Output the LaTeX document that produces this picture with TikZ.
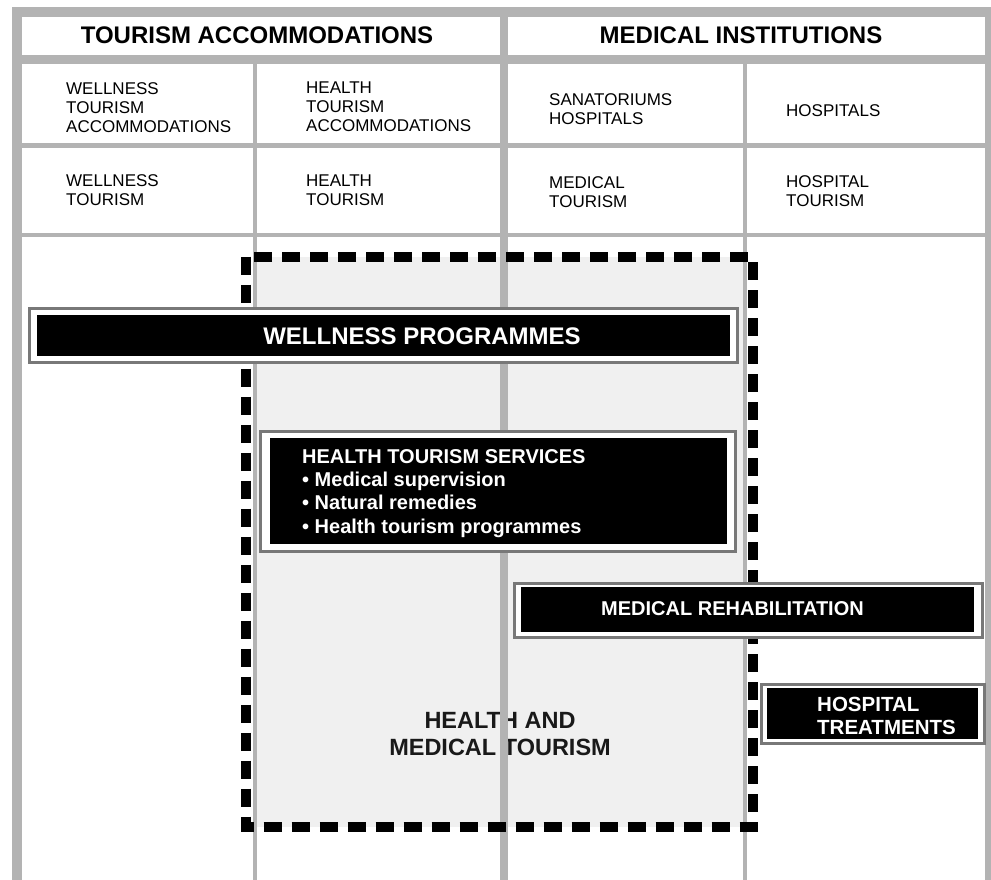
\documentclass[tikz,border=0pt]{standalone}
\usepackage{fontspec}
\setmainfont{Liberation Sans}
\definecolor{gridgray}{RGB}{179,179,179}
\definecolor{framegray}{RGB}{120,120,120}
\definecolor{zonefill}{RGB}{240,240,240}
\newcommand{\leftlines}[1]{\begin{tabular}[t]{@{}l@{}}#1\end{tabular}}
\newcommand{\centerlines}[1]{\begin{tabular}[t]{@{}c@{}}#1\end{tabular}}
\tikzset{
  x=1pt, y=-1pt,
  cellfill/.style={fill=white},
  celltext/.style={anchor=base west, inner sep=0pt, font=\fontsize{17}{19}\selectfont},
  headtext/.style={anchor=base, inner sep=0pt, font=\fontsize{24}{28}\selectfont\bfseries},
  outerbox/.style={rectangle, draw=framegray, line width=3pt, fill=white, inner sep=0pt},
  innerbox/.style={rectangle, fill=black, inner sep=0pt},
  boxtext/.style={text=white, inner sep=0pt, font=\fontsize{20}{23.2}\selectfont\bfseries},
  zonelabel/.style={anchor=base, inner sep=0pt, text=black!90, font=\fontsize{23.5}{26.7}\selectfont\bfseries},
  zoneborder/.style={draw=black, line width=10pt, dash pattern=on 18pt off 10pt, line join=miter}
}
\begin{document}
\begin{tikzpicture}
\useasboundingbox (0,0) rectangle (991,880);

% grey frame behind the table
\fill[gridgray] (12,7) rectangle (991,880);

% header row
\fill[cellfill] (22,17) rectangle (499.5,55);
\fill[cellfill] (508,17) rectangle (985,55);
% institution rows
\fill[cellfill] (22,64) rectangle (253,143);
\fill[cellfill] (257,64) rectangle (499.5,143);
\fill[cellfill] (508,64) rectangle (743,143);
\fill[cellfill] (747,64) rectangle (985,143);
% tourism type rows
\fill[cellfill] (22,148) rectangle (253,233);
\fill[cellfill] (257,148) rectangle (499.5,233);
\fill[cellfill] (508,148) rectangle (743,233);
\fill[cellfill] (747,148) rectangle (985,233);
% open lower columns
\fill[cellfill] (22,237) rectangle (253,880);
\fill[cellfill] (257,237) rectangle (499.5,880);
\fill[cellfill] (508,237) rectangle (743,880);
\fill[cellfill] (747,237) rectangle (985,880);

% headings
\node[headtext] (hTour) at (257,44) {TOURISM ACCOMMODATIONS};
\node[headtext] (hMed) at (741,43.5) {MEDICAL INSTITUTIONS};

% accommodation cells
\node[celltext] (a1) at (66,95) {\leftlines{WELLNESS\\TOURISM\\ACCOMMODATIONS}};
\node[celltext] (a2) at (306,93.3) {\leftlines{HEALTH\\TOURISM\\ACCOMMODATIONS}};
\node[celltext] (a3) at (549,106) {\leftlines{SANATORIUMS\\HOSPITALS}};
\node[celltext] (a4) at (786,116.7) {HOSPITALS};

% tourism type cells
\node[celltext] (t1) at (66,186) {\leftlines{WELLNESS\\TOURISM}};
\node[celltext] (t2) at (306,186) {\leftlines{HEALTH\\TOURISM}};
\node[celltext] (t3) at (549,188.3) {\leftlines{MEDICAL\\TOURISM}};
\node[celltext] (t4) at (786,188) {\leftlines{HOSPITAL\\TOURISM}};

% shaded zone of health and medical tourism
\fill[zonefill] (257,257) rectangle (499.5,827);
\fill[zonefill] (508,257) rectangle (743,827);
\node[zonelabel] (zone) at (500,728.3) {\centerlines{HEALTH AND\\MEDICAL TOURISM}};
% middle divider runs over the zone label
\fill[gridgray] (499.5,237) rectangle (508,880);
\draw[zoneborder] (246,256.5) rectangle (752.5,827);

% wellness programmes bar
\node[outerbox, minimum width=708pt, minimum height=54pt] (wpOut) at (383.5,335.5) {};
\node[innerbox, minimum width=693pt, minimum height=41pt] (wp) at (383.5,335.5) {};
\node[boxtext, anchor=base, font=\fontsize{24}{28}\selectfont\bfseries] (wpText) at (422,344) {WELLNESS PROGRAMMES};

% health tourism services box
\node[outerbox, minimum width=475pt, minimum height=120pt] (htsOut) at (498,491.5) {};
\node[innerbox, minimum width=457pt, minimum height=106pt] (hts) at (498.5,491) {};
\node[boxtext, anchor=base west] (htsText) at (302,463.5)
  {\leftlines{HEALTH TOURISM SERVICES\\• Medical supervision\\• Natural remedies\\• Health tourism programmes}};

% medical rehabilitation bar
\node[outerbox, minimum width=467.5pt, minimum height=53.5pt] (mrOut) at (748.25,610.25) {};
\node[innerbox, minimum width=453pt, minimum height=45pt] (mr) at (747.5,609.5) {};
\node[boxtext, anchor=base] (mrText) at (732.5,615) {MEDICAL REHABILITATION};

% hospital treatments box
\node[outerbox, minimum width=222.5pt, minimum height=58.5pt] (htOut) at (872.75,713.75) {};
\node[innerbox, minimum width=211pt, minimum height=51pt] (ht) at (872.5,713.5) {};
\node[boxtext, anchor=base west, font=\fontsize{20.5}{22.3}\selectfont\bfseries] (htText) at (817,711.7)
  {\leftlines{HOSPITAL\\TREATMENTS}};
\end{tikzpicture}
\end{document}
